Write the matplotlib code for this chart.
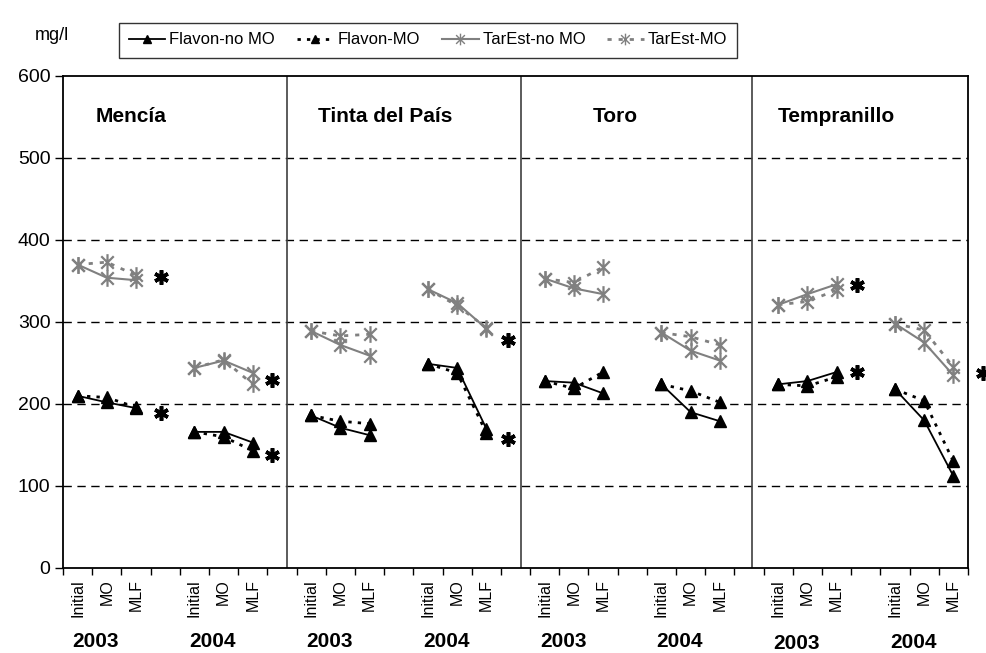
import numpy as np
import matplotlib
matplotlib.use("Agg")
import matplotlib.pyplot as plt
from matplotlib.path import Path
from matplotlib.lines import Line2D

plt.rcParams['font.family'] = ['Liberation Sans', 'DejaVu Sans']

# ---------------- data ----------------
varieties = ["Mencía", "Tinta del País", "Toro", "Tempranillo"]
years = ["2003", "2004"]
stages = ["Initial", "MO", "MLF"]

# values per variety, year, stage (Mencía 03, 04, Tinta 03, 04, Toro 03, 04, Tempranillo 03, 04)
flavon_no_mo = [210, 202, 195, 166, 166, 153,
                186, 171, 162, 249, 244, 170,
                228, 226, 213, 224, 190, 179,
                224, 228, 239, 218, 180, 112]
flavon_mo = [210, 208, 196, 166, 160, 143,
             186, 179, 176, 249, 238, 165,
             228, 219, 239, 224, 216, 202,
             224, 222, 233, 218, 204, 130]
tarest_no_mo = [370, 354, 351, 244, 253, 238,
                289, 272, 259, 340, 323, 292,
                353, 341, 334, 287, 265, 253,
                321, 334, 346, 298, 275, 235]
tarest_mo = [370, 373, 357, 244, 254, 224,
             289, 283, 285, 340, 320, 293,
             353, 348, 367, 287, 282, 272,
             321, 325, 339, 298, 290, 245]

# significance asterisks (slot position, value)
star_x = [2.86, 2.86, 6.66, 6.66, 14.74, 14.74, 26.7, 26.7, 31.0]
star_y = [355, 189, 229, 138, 278, 157, 345, 239, 238]

yticks = [0, 100, 200, 300, 400, 500, 600]

# ---------------- layout ----------------
n_slots = 31
def slot(v, y, s):
    return v * 8 + y * 4 + s

fig = plt.figure(figsize=(9.86, 6.53), dpi=100)
ax = fig.add_axes([63/986, 1 - 568/653, 905/986, 492/653])
ax.set_xlim(-0.5, n_slots - 0.5)
ax.set_ylim(0, 600)

gray = "#808080"
star_path = Path([(0, -1), (0, 1), (-0.75, -0.75), (0.75, 0.75), (-0.75, 0.75), (0.75, -0.75)],
                 [Path.MOVETO, Path.LINETO, Path.MOVETO, Path.LINETO, Path.MOVETO, Path.LINETO])

series = [
    ("Flavon-no MO", flavon_no_mo, dict(color="black", ls="-", lw=1.3, marker="^", ms=9, mfc="black", mec="black")),
    ("Flavon-MO", flavon_mo, dict(color="black", ls=(0, (1.2, 2.2)), lw=2.0, marker="^", ms=9, mfc="black", mec="black")),
    ("TarEst-no MO", tarest_no_mo, dict(color=gray, ls="-", lw=1.5, marker=star_path, ms=12, mec=gray, mew=1.6)),
    ("TarEst-MO", tarest_mo, dict(color=gray, ls=(0, (1.5, 2.5)), lw=2.0, marker=star_path, ms=12, mec=gray, mew=1.6)),
]

# grid lines
for yv in yticks[1:-1]:
    ax.axhline(yv, color="black", lw=1.0, ls=(0, (6, 4)), zorder=1)

# variety separators
for xs in [7.17, 15.2, 23.1]:
    ax.axvline(xs, color="#404040", lw=1.2, zorder=1)

handles = []
for name, vals, st in series:
    i = 0
    for v in range(4):
        for y in range(2):
            xs = [slot(v, y, s) for s in range(3)]
            ys = vals[i:i + 3]
            i += 3
            ax.plot(xs, ys, zorder=3, **st)
    hs = dict(st)
    hs["ms"] = st["ms"] * 0.7
    if "mew" in hs:
        hs["mew"] = 1.0
    handles.append(Line2D([], [], **hs))

ax.plot(star_x, star_y, ls="none", marker=(6, 2, 0), ms=10.5, mew=2.6, color="black",
        clip_on=False, zorder=4)

# axes styling
for sp in ax.spines.values():
    sp.set_color("black")
    sp.set_linewidth(1.3)
ax.set_yticks(yticks)
ax.set_yticklabels([str(t) for t in yticks], fontsize=14)
ax.tick_params(axis="y", direction="out", length=6, width=1, pad=3)

ax.set_xticks(np.arange(-0.5, n_slots, 1.0))
ax.set_xticklabels([])
ax.tick_params(axis="x", which="major", direction="out", length=5, width=1)
label_pos, label_txt = [], []
for v in range(4):
    for y in range(2):
        for s in range(3):
            label_pos.append(slot(v, y, s))
            label_txt.append(stages[s])
ax.set_xticks(label_pos, minor=True)
ax.set_xticklabels(label_txt, minor=True, rotation=90, fontsize=11.5, va="top", ha="center")
ax.tick_params(axis="x", which="minor", length=0, pad=8)

# year labels
year_y = [-90, -90, -90, -90, -90, -90, -92, -91]
k = 0
for v in range(4):
    for y in range(2):
        ax.text(slot(v, y, 0) + 0.63, year_y[k], years[y], ha="center", va="center",
                fontsize=15, fontweight="bold", transform=ax.transData, clip_on=False)
        k += 1

# variety titles
title_x = [0.63, 8.23, 17.65, 23.98]
for v, name in enumerate(varieties):
    ax.text(title_x[v], 550, name, ha="left", va="center", fontsize=15, fontweight="bold")

fig.text(52/986, 1 - 35/653, "mg/l", ha="center", va="center", fontsize=13)

leg = fig.legend(handles, [s[0] for s in series], loc="center", ncol=4,
                 bbox_to_anchor=(428/986, 1 - 40/653), frameon=True, fancybox=False,
                 edgecolor="black", fontsize=12, handlelength=2.2, handletextpad=0.25,
                 columnspacing=1.3, borderpad=0.6)
leg.get_frame().set_linewidth(1.0)

fig.savefig("out.png", dpi=100)
